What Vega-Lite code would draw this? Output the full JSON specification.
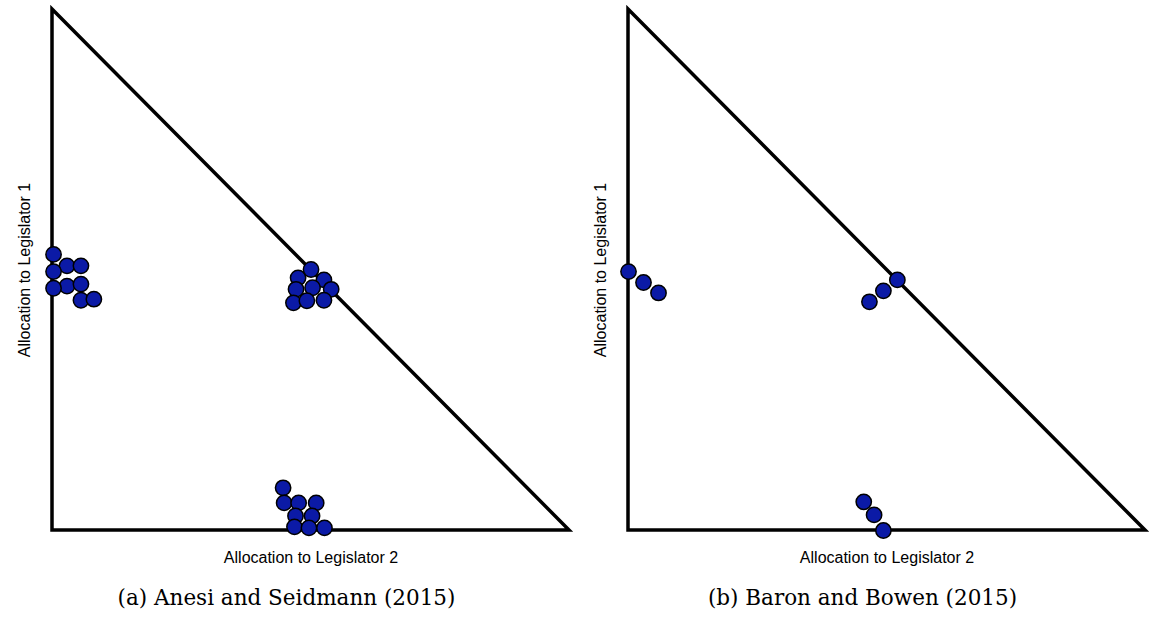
{
  "$schema": "https://vega.github.io/schema/vega-lite/v6.json",
  "padding": {"left": 16, "top": 2, "right": 0, "bottom": 0},
  "background": "white",
  "datasets": {
    "tri": [
      {"i": 0, "x": 0, "y": 0},
      {"i": 1, "x": 0, "y": 1},
      {"i": 2, "x": 1, "y": 0},
      {"i": 3, "x": 0, "y": 0}
    ],
    "pts": [
      {"panel": "a", "x": 0.029, "y": 0.507},
      {"panel": "a", "x": 0.029, "y": 0.468},
      {"panel": "a", "x": 0.003, "y": 0.529},
      {"panel": "a", "x": 0.003, "y": 0.496},
      {"panel": "a", "x": 0.003, "y": 0.464},
      {"panel": "a", "x": 0.056, "y": 0.507},
      {"panel": "a", "x": 0.056, "y": 0.472},
      {"panel": "a", "x": 0.056, "y": 0.441},
      {"panel": "a", "x": 0.081, "y": 0.443},
      {"panel": "a", "x": 0.476, "y": 0.484},
      {"panel": "a", "x": 0.526, "y": 0.480},
      {"panel": "a", "x": 0.501, "y": 0.500},
      {"panel": "a", "x": 0.472, "y": 0.462},
      {"panel": "a", "x": 0.504, "y": 0.465},
      {"panel": "a", "x": 0.540, "y": 0.462},
      {"panel": "a", "x": 0.467, "y": 0.436},
      {"panel": "a", "x": 0.493, "y": 0.440},
      {"panel": "a", "x": 0.526, "y": 0.441},
      {"panel": "a", "x": 0.447, "y": 0.081},
      {"panel": "a", "x": 0.449, "y": 0.052},
      {"panel": "a", "x": 0.477, "y": 0.052},
      {"panel": "a", "x": 0.511, "y": 0.052},
      {"panel": "a", "x": 0.471, "y": 0.027},
      {"panel": "a", "x": 0.503, "y": 0.027},
      {"panel": "a", "x": 0.469, "y": 0.006},
      {"panel": "a", "x": 0.497, "y": 0.004},
      {"panel": "a", "x": 0.527, "y": 0.004},
      {"panel": "b", "x": 0.001, "y": 0.496},
      {"panel": "b", "x": 0.030, "y": 0.475},
      {"panel": "b", "x": 0.059, "y": 0.455},
      {"panel": "b", "x": 0.467, "y": 0.438},
      {"panel": "b", "x": 0.494, "y": 0.459},
      {"panel": "b", "x": 0.521, "y": 0.480},
      {"panel": "b", "x": 0.456, "y": 0.054},
      {"panel": "b", "x": 0.476, "y": 0.029},
      {"panel": "b", "x": 0.494, "y": -0.001}
    ]
  },
  "config": {
    "view": {"stroke": null},
    "concat": {"spacing": 16},
    "axis": {
      "domain": false,
      "ticks": false,
      "labels": false,
      "grid": false,
      "titleFont": "Liberation Sans",
      "titleFontSize": 16,
      "titleFontWeight": "normal",
      "titleColor": "black"
    },
    "title": {
      "font": "DejaVu Serif",
      "fontSize": 21.5,
      "fontWeight": "normal",
      "color": "black"
    }
  },
  "hconcat": [
    {
      "width": 517,
      "height": 521,
      "title": {"text": "(a) Anesi and Seidmann (2015)", "orient": "bottom", "anchor": "middle", "frame": "group", "offset": 23, "dx": -24},
      "encoding": {
        "x": {"field": "x", "type": "quantitative", "scale": {"domain": [0, 1], "nice": false, "zero": false}, "axis": {"title": "Allocation to Legislator 2", "titlePadding": 19}},
        "y": {"field": "y", "type": "quantitative", "scale": {"domain": [0, 1], "nice": false, "zero": false}, "axis": {"title": "Allocation to Legislator 1", "titlePadding": 20}}
      },
      "layer": [
        {
          "data": {"name": "tri"},
          "mark": {"type": "line", "color": "black", "strokeWidth": 3.5, "strokeJoin": "miter", "strokeCap": "square", "clip": false},
          "encoding": {"order": {"field": "i", "type": "quantitative"}}
        },
        {
          "data": {"name": "pts"},
          "transform": [{"filter": "datum.panel === 'a'"}],
          "mark": {"type": "circle", "size": 235, "fill": "#0b1aa6", "stroke": "black", "strokeWidth": 1.5, "opacity": 1}
        }
      ]
    },
    {
      "width": 517,
      "height": 521,
      "title": {"text": "(b) Baron and Bowen (2015)", "orient": "bottom", "anchor": "middle", "frame": "group", "offset": 23, "dx": -24},
      "encoding": {
        "x": {"field": "x", "type": "quantitative", "scale": {"domain": [0, 1], "nice": false, "zero": false}, "axis": {"title": "Allocation to Legislator 2", "titlePadding": 19}},
        "y": {"field": "y", "type": "quantitative", "scale": {"domain": [0, 1], "nice": false, "zero": false}, "axis": {"title": "Allocation to Legislator 1", "titlePadding": 20}}
      },
      "layer": [
        {
          "data": {"name": "tri"},
          "mark": {"type": "line", "color": "black", "strokeWidth": 3.5, "strokeJoin": "miter", "strokeCap": "square", "clip": false},
          "encoding": {"order": {"field": "i", "type": "quantitative"}}
        },
        {
          "data": {"name": "pts"},
          "transform": [{"filter": "datum.panel === 'b'"}],
          "mark": {"type": "circle", "size": 235, "fill": "#0b1aa6", "stroke": "black", "strokeWidth": 1.5, "opacity": 1}
        }
      ]
    }
  ]
}
